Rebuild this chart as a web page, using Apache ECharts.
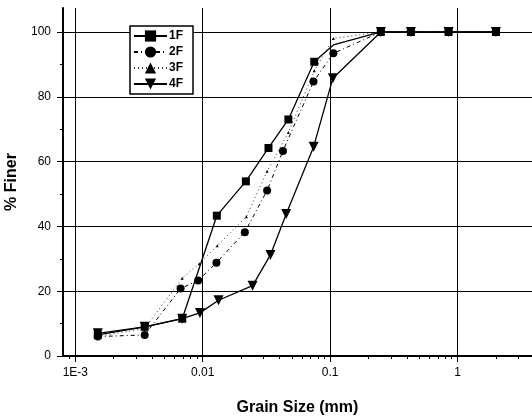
<!DOCTYPE html>
<html>
<head>
<meta charset="utf-8">
<script src="https://cdn.jsdelivr.net/npm/echarts@6/dist/echarts.min.js"></script>
<style>
html,body{margin:0;padding:0;background:#fff;}
#chart{width:532px;height:419px;}
</style>
</head>
<body>
<div id="chart"></div>
<script>
// ---- data ----
var seriesNames = ['1F', '2F', '3F', '4F'];
var x1F = [0.0015, 0.0035, 0.0069, 0.0129, 0.0218, 0.0328, 0.047, 0.075, 0.106, 0.25, 0.43, 0.85, 2.0];
var y1F = [6.5, 9, 11.5, 43.3, 53.9, 64.2, 73, 90.8, 96, 100, 100, 100, 100];
var x2F = [0.0015, 0.0035, 0.0067, 0.0092, 0.0128, 0.0214, 0.032, 0.0426, 0.074, 0.106, 0.25, 0.43, 0.85, 2.0];
var y2F = [6, 6.5, 20.8, 23.3, 28.8, 38.2, 51.1, 63.3, 84.7, 93.4, 100, 100, 100, 100];
var x3F = [0.0015, 0.0035, 0.0069, 0.0094, 0.013, 0.022, 0.032, 0.047, 0.075, 0.106, 0.25, 0.43, 0.85, 2.0];
var y3F = [6, 8.5, 24, 28.5, 34, 43, 57, 69, 88, 98, 100, 100, 100, 100];
var x4F = [0.0015, 0.0035, 0.0069, 0.0095, 0.0133, 0.0246, 0.034, 0.0452, 0.0742, 0.105, 0.25, 0.43, 0.85, 2.0];
var y4F = [7, 9, 11.5, 13.3, 17.2, 21.7, 31.2, 43.8, 64.6, 85.7, 100, 100, 100, 100];
var xTicks = [0.001, 0.01, 0.1, 1];
var xTickLabels = ['1E-3', '0.01', '0.1', '1'];
var xMinorTicks = [0.0009,
                   0.002,0.003,0.004,0.005,0.006,0.007,0.008,0.009,
                   0.02,0.03,0.04,0.05,0.06,0.07,0.08,0.09,
                   0.2,0.3,0.4,0.5,0.6,0.7,0.8,0.9,
                   2,3];
var yTicks = [0, 20, 40, 60, 80, 100];
var yMinorTicks = [10, 30, 50, 70, 90];

function pairs(xs, ys) { return xs.map(function (x, i) { return [x, ys[i]]; }); }

var chart = echarts.init(document.getElementById('chart'), null, {renderer: 'canvas'});
var FONT = 'Liberation Sans, Arial, sans-serif';
var xMin = 0.0008, xMax = 3.84;

var option = {
  animation: false,
  backgroundColor: '#fff',
  grid: {left: 63, right: 0, top: 8, bottom: 63, outerBoundsMode: 'none', containLabel: false},
  legend: {
    orient: 'vertical',
    left: 130, top: 26,
    padding: [4, 10, 4, 3],
    itemGap: 4,
    itemWidth: 33, itemHeight: 14,
    backgroundColor: '#fff',
    borderColor: '#000', borderWidth: 1.5,
    textStyle: {fontFamily: FONT, fontWeight: 'bold', fontSize: 12, color: '#000', padding: [0,0,0,-3]},
    data: seriesNames
  },
  xAxis: [{
    type: 'log', min: xMin, max: xMax,
    name: 'Grain Size (mm)', nameLocation: 'middle', nameGap: 44,
    nameTextStyle: {fontFamily: FONT, fontWeight: 'bold', fontSize: 16, color: '#000'},
    axisLine: {lineStyle: {color: '#000', width: 2}},
    axisTick: {customValues: xTicks, inside: false, length: 6, lineStyle: {color: '#000', width: 1}},
    axisLabel: {customValues: xTicks, margin: 11, fontFamily: FONT, fontSize: 12, color: '#000',
      formatter: function (v) { var i = -1; for (var k = 0; k < xTicks.length; k++) { if (Math.abs(Math.log10(v) - Math.log10(xTicks[k])) < 1e-6) i = k; } return i >= 0 ? xTickLabels[i] : ''; }},
    splitLine: {show: true, lineStyle: {color: '#000', width: 1}}
  }, {
    type: 'log', min: xMin, max: xMax, position: 'bottom',
    axisLine: {show: false},
    axisTick: {customValues: xMinorTicks, length: 3, lineStyle: {color: '#000', width: 1}},
    axisLabel: {show: false},
    splitLine: {show: false}
  }],
  yAxis: [{
    type: 'value', min: 0, max: 107.4,
    name: '% Finer', nameLocation: 'middle', nameGap: 38,
    nameTextStyle: {fontFamily: FONT, fontWeight: 'bold', fontSize: 16, color: '#000'},
    axisLine: {show: true, lineStyle: {color: '#000', width: 2}},
    axisTick: {show: true, customValues: yTicks, length: 6, lineStyle: {color: '#000', width: 1}},
    axisLabel: {customValues: yTicks, margin: 12, fontFamily: FONT, fontSize: 12, color: '#000'},
    splitLine: {show: true, lineStyle: {color: '#000', width: 1}}
  }, {
    type: 'value', min: 0, max: 107.4, position: 'left',
    axisLine: {show: false},
    axisTick: {show: true, customValues: yMinorTicks, length: 3, lineStyle: {color: '#000', width: 1}},
    axisLabel: {show: false},
    splitLine: {show: false}
  }],
  series: [{
    name: '1F', type: 'line', data: pairs(x1F, y1F).map(function (p, i) { return i === 8 ? {value: p, symbol: 'none'} : p; }),
    symbol: 'rect', symbolSize: 8,
    itemStyle: {color: '#000'},
    lineStyle: {color: '#000', width: 1.3, type: 'solid'}
  }, {
    name: '2F', type: 'line', data: pairs(x2F, y2F),
    symbol: 'circle', symbolSize: 8,
    itemStyle: {color: '#000'},
    lineStyle: {color: '#000', width: 1, type: [4, 3, 1, 3]}
  }, {
    name: '3F', type: 'line', data: pairs(x3F, y3F),
    symbol: 'triangle', symbolSize: 3,
    itemStyle: {color: '#000'},
    lineStyle: {color: '#333', width: 1, type: [1, 3]}
  }, {
    name: '4F', type: 'line', data: pairs(x4F, y4F),
    symbol: 'triangle', symbolRotate: 180, symbolSize: 10,
    itemStyle: {color: '#000'},
    lineStyle: {color: '#000', width: 1.3, type: 'solid'}
  }]
};
chart.setOption(option);
</script>
</body>
</html>
